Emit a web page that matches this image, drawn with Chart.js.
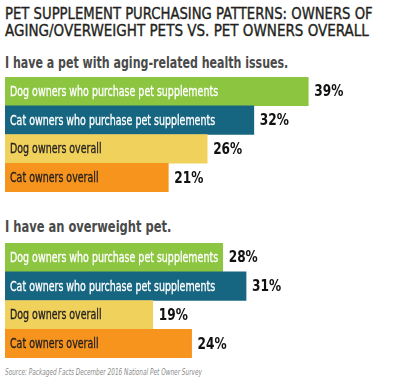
<!DOCTYPE html>
<html><head><meta charset="utf-8">
<script src="https://cdn.jsdelivr.net/npm/chart.js@4"></script>
<style>
html,body{margin:0;padding:0;background:#fff;width:400px;height:379px;overflow:hidden;position:relative;}
.t{position:absolute;left:5px;white-space:nowrap;transform-origin:0 0;font-family:"DejaVu Sans Condensed","DejaVu Sans",sans-serif;}
.ttl{font-size:16px;line-height:16px;color:#231f20;-webkit-text-stroke:0.35px #231f20;}
#t1{top:6px;}
#t2{top:23px;}
.sub{font-weight:bold;font-size:15px;line-height:15px;color:#4a4a4a;}
#s1{top:56px;}
#s2{top:220px;}
#src{top:368px;font-style:italic;font-size:9px;line-height:9px;color:#8a8a8a;}
.cw{position:absolute;left:0;width:400px;height:115px;}
#c1w{top:77px;}
#c2w{top:243px;}
</style></head>
<body>
<div id="t1" class="t ttl" data-w="368">PET SUPPLEMENT PURCHASING PATTERNS: OWNERS OF</div>
<div id="t2" class="t ttl" data-w="364">AGING/OVERWEIGHT PETS VS. PET OWNERS OVERALL</div>
<div id="s1" class="t sub" data-w="283">I have a pet with aging-related health issues.</div>
<div id="s2" class="t sub" data-w="166">I have an overweight pet.</div>
<div id="src" class="t" data-w="197">Source: Packaged Facts December 2016 National Pet Owner Survey</div>
<div class="cw" id="c1w"><canvas id="c1"></canvas></div>
<div class="cw" id="c2w"><canvas id="c2"></canvas></div>
<script>
const categories = ["Dog owners who purchase pet supplements","Cat owners who purchase pet supplements","Dog owners overall","Cat owners overall"];
const agingValues = [39, 32, 26, 21];
const overweightValues = [28, 31, 19, 24];
const barColors = ["#8cc540","#176681","#f0d15c","#f6941e"];
const labelColors = ["#ffffff","#ffffff","#231f20","#231f20"];

document.querySelectorAll('[data-w]').forEach(el=>{
  const w = el.scrollWidth;
  const target = +el.dataset.w;
  el.style.transform = 'scaleX(' + (target / w) + ')';
});

const FONT = '"DejaVu Sans Condensed","DejaVu Sans",sans-serif';
const labelPlugin = {
  id:'labels',
  afterDatasetsDraw(chart){
    const ctx = chart.ctx;
    const meta = chart.getDatasetMeta(0);
    const data = chart.data.datasets[0].data;
    const left = chart.scales.x.getPixelForValue(0);
    meta.data.forEach((bar,i)=>{
      ctx.save();
      ctx.textBaseline='middle';
      ctx.textAlign='left';
      ctx.fillStyle = labelColors[i];
      ctx.strokeStyle = labelColors[i];
      ctx.lineWidth = 0.3;
      ctx.font = '13.5px ' + FONT;
      ctx.translate(left+5, bar.y+1);
      ctx.scale(0.78, 1);
      ctx.fillText(chart.data.labels[i], 0, 0);
      ctx.strokeText(chart.data.labels[i], 0, 0);
      ctx.restore();
      ctx.save();
      ctx.textBaseline='middle';
      ctx.textAlign='left';
      ctx.fillStyle = '#111';
      ctx.font = 'bold 15px ' + FONT;
      ctx.translate(bar.x+6, bar.y+1);
      ctx.scale(0.9, 1);
      ctx.fillText(data[i]+'%', 0, 0);
      ctx.restore();
    });
  }
};

function make(id, values){
  new Chart(document.getElementById(id), {
    type:'bar',
    data:{labels:categories, datasets:[{data:values, backgroundColor:barColors, borderWidth:0, barPercentage:1, categoryPercentage:1}]},
    options:{
      indexAxis:'y', responsive:true, maintainAspectRatio:false, animation:false,
      layout:{padding:{left:5,right:0,top:0,bottom:0}},
      plugins:{legend:{display:false},tooltip:{enabled:false}},
      scales:{
        x:{display:false,min:0,max:50.8},
        y:{display:false}
      }
    },
    plugins:[labelPlugin]
  });
}
make('c1', agingValues);
make('c2', overweightValues);
</script>
</body></html>
